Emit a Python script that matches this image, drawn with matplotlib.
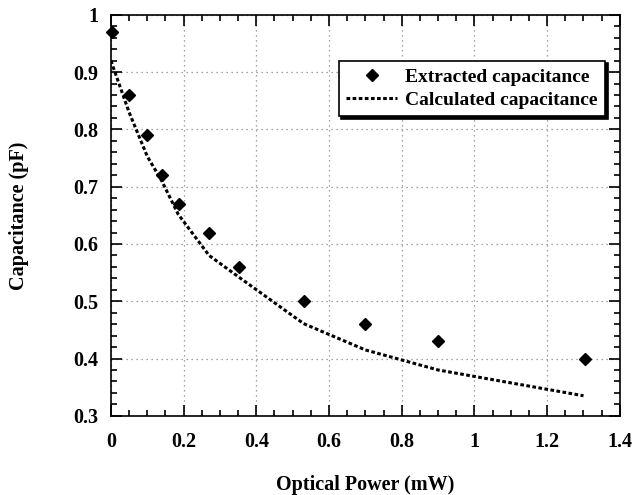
import matplotlib
matplotlib.use("Agg")
import matplotlib.pyplot as plt
from matplotlib.ticker import MultipleLocator

# Extracted capacitance (points)
power_ext = [0.003, 0.05, 0.10, 0.14, 0.187, 0.27, 0.353, 0.53, 0.70, 0.90, 1.305]
cap_ext = [0.97, 0.86, 0.79, 0.72, 0.67, 0.62, 0.56, 0.50, 0.46, 0.43, 0.40]

# Calculated capacitance (dashed line)
power_calc = [0.0, 0.05, 0.10, 0.14, 0.185, 0.27, 0.35, 0.53, 0.70, 0.90, 1.30]
cap_calc = [0.92, 0.83, 0.753, 0.71, 0.652, 0.58, 0.543, 0.461, 0.415, 0.38, 0.335]

xticks = [0, 0.2, 0.4, 0.6, 0.8, 1, 1.2, 1.4]
yticks = [0.3, 0.4, 0.5, 0.6, 0.7, 0.8, 0.9, 1]

plt.rcParams['font.family'] = ['Liberation Serif', 'DejaVu Serif']
plt.rcParams['font.weight'] = 'bold'

fig = plt.figure(figsize=(6.41, 4.95), dpi=100)
ax = fig.add_axes([0.173, 0.160, 0.794, 0.810])

ax.plot(power_ext, cap_ext, linestyle='none', marker='D', markersize=6.5,
        color='black', label='Extracted capacitance', clip_on=False, zorder=3)
ax.plot(power_calc, cap_calc, linestyle=(0, (1.2, 0.8)), linewidth=2.2,
        color='black', label='Calculated capacitance')

ax.set_xlim(0, 1.4)
ax.set_ylim(0.3, 1.0)
ax.set_xticks(xticks)
ax.set_yticks(yticks)
ax.set_xticklabels([f"{v:g}" for v in xticks])
ax.set_yticklabels([f"{v:g}" for v in yticks])
ax.xaxis.set_minor_locator(MultipleLocator(0.05))
ax.yaxis.set_minor_locator(MultipleLocator(0.02))
ax.tick_params(which='both', direction='in', top=True, right=True,
               labelsize=14.5, width=1.2)
ax.tick_params(which='major', length=8, pad=9)
ax.tick_params(axis='x', which='major', pad=12)
ax.tick_params(which='minor', length=4)
for s in ax.spines.values():
    s.set_linewidth(1.2)

ax.grid(True, which='major', linestyle=(0, (1, 3)), color='#888888', linewidth=0.9)

ax.set_xlabel('Optical Power (mW)', fontsize=14.5, fontweight='bold', labelpad=16)
ax.set_ylabel('Capacitance (pF)', fontsize=14.5, fontweight='bold', labelpad=32)

leg = ax.legend(loc='upper right', bbox_to_anchor=(0.99, 0.91), fontsize=14,
                frameon=True, fancybox=False, edgecolor='black',
                shadow={'color': 'black', 'alpha': 1.0},
                handlelength=2.6, borderpad=0.4, labelspacing=0.25,
                handletextpad=0.4)
leg.get_frame().set_linewidth(1.2)
leg.get_frame().set_alpha(1.0)

fig.savefig('out.png', dpi=100)
